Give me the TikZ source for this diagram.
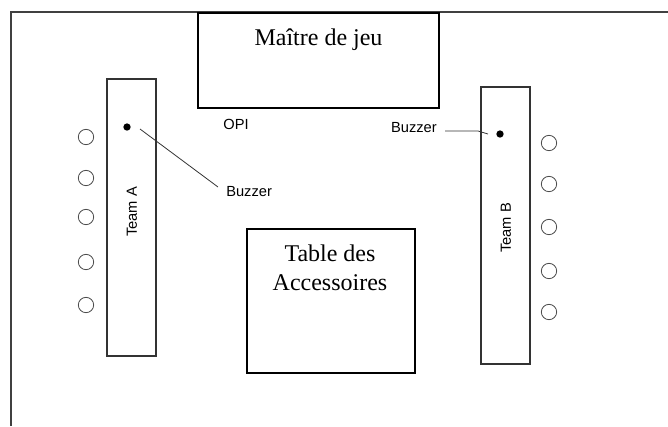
\documentclass[tikz,border=0pt]{standalone}
\usepackage{fontspec}
\setmainfont{Liberation Serif}
\setsansfont{Liberation Sans}
\begin{document}
\begin{tikzpicture}[x=0.75pt,y=-0.75pt,
  frameline/.style={line width=1.5pt,draw=black!75},
  bigbox/.style={draw=black,line width=1.4pt,inner sep=0pt},
  teambox/.style={draw=black!80,line width=1pt,inner sep=0pt,minimum width=36.75pt,minimum height=207.75pt},
  serifbig/.style={font=\fontsize{18}{21.75}\selectfont\rmfamily,inner sep=0pt},
  sanslabel/.style={font=\fontsize{11}{13}\selectfont\sffamily,inner sep=0pt},
  seat/.style={circle,draw=black!70,line width=0.6pt,minimum size=11.5pt,inner sep=0pt},
  buzzdot/.style={circle,fill=black,minimum size=5.5pt,inner sep=0pt},
  leader/.style={draw=black!80,line width=0.6pt}]
\useasboundingbox (0,0) rectangle (668,426);
% outer frame (top and left sides only)
\coordinate (fbl) at (10.5,426);
\coordinate (ftl) at (10.5,12);
\coordinate (ftr) at (668,12);
\draw[frameline] (fbl) -- (ftl) -- (ftr);
% Maitre de jeu
\node[bigbox,minimum width=180.75pt,minimum height=71.25pt] (maitre) at (318.5,60.5) {};
\node[serifbig,anchor=base] (maitret) at (318.5,45) {Maître de jeu};
% Table des Accessoires
\node[bigbox,minimum width=126pt,minimum height=108pt] (table) at (331,301) {};
\node[serifbig,anchor=base] (table1) at (330,261) {Table des};
\node[serifbig,anchor=base] (table2) at (330,290) {Accessoires};
% OPI
\node[sanslabel] (opi) at (236,124) {OPI};
% Team A
\node[teambox] (teamA) at (131.5,217.5) {};
\node[sanslabel,rotate=90] (teamAt) at (132,212) {Team A};
\node[buzzdot] (dotA) at (127,127) {};
\node[sanslabel,anchor=west] (buzA) at (226,192) {Buzzer};
\coordinate (lA1) at (140,129);
\coordinate (lA2) at (218,187);
\draw[leader] (lA1) -- (lA2);
\foreach \i/\yy in {1/137,2/178,3/217,4/262,5/305}{
  \node[seat] (a\i) at (86,\yy) {};
}
% Team B
\node[teambox] (teamB) at (505.5,225.5) {};
\node[sanslabel,rotate=90] (teamBt) at (506,228) {Team B};
\node[buzzdot] (dotB) at (500,134) {};
\node[sanslabel,anchor=east] (buzB) at (437,128) {Buzzer};
\coordinate (lB1) at (445,131);
\coordinate (lB2) at (478,131);
\coordinate (lB3) at (488,134);
\draw[leader] (lB1) -- (lB2) -- (lB3);
\foreach \i/\yy in {1/143,2/184,3/227,4/271,5/312}{
  \node[seat] (b\i) at (549,\yy) {};
}
\end{tikzpicture}
\end{document}
